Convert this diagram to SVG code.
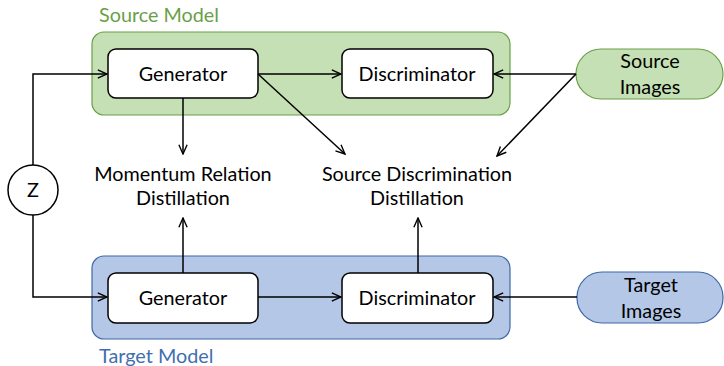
<svg xmlns="http://www.w3.org/2000/svg" width="724" height="366" viewBox="0 0 724 366">
  <style>
    text { font-family: "Lato", "Open Sans", "Liberation Sans", sans-serif; font-size: 19.8px; fill: #000; text-anchor: middle; }
    .box { fill: #fff; stroke: #000; stroke-width: 1.5; }
    .src { fill: #c5e0b4; stroke: #6a9f48; stroke-width: 1.2; }
    .tgt { fill: #b4c7e7; stroke: #3f68a8; stroke-width: 1.2; }
    .edge { fill: none; stroke: #000; stroke-width: 1.5; marker-end: url(#arrow); }
    .title { text-anchor: start; }
  </style>
  <defs>
    <marker id="arrow" viewBox="0 0 12 12" refX="11" refY="6" markerWidth="11" markerHeight="11" markerUnits="userSpaceOnUse" orient="auto">
      <path d="M1,1.5 L11,6 L1,10.5" fill="none" stroke="#000" stroke-width="1.5"/>
    </marker>
  </defs>

  <!-- model containers -->
  <g id="source-model">
    <rect class="src" x="92" y="32" width="418" height="83" rx="12"/>
    <text class="title" x="99" y="22" style="fill:#6a9f48">Source Model</text>
  </g>
  <g id="target-model">
    <rect class="tgt" x="92" y="256" width="418" height="83" rx="12"/>
    <text class="title" x="99" y="363" style="fill:#3f6fb0">Target Model</text>
  </g>

  <!-- nodes -->
  <g id="z">
    <circle cx="33" cy="190" r="25" fill="#fff" stroke="#000" stroke-width="1.5"/>
    <text x="33" y="197">Z</text>
  </g>
  <g id="source-generator">
    <rect class="box" x="108" y="49" width="150" height="49" rx="8"/>
    <text x="183" y="81">Generator</text>
  </g>
  <g id="source-discriminator">
    <rect class="box" x="342" y="49" width="151" height="49" rx="8"/>
    <text x="417" y="81">Discriminator</text>
  </g>
  <g id="source-images">
    <rect class="src" x="576" y="49" width="147" height="50" rx="25"/>
    <text x="650" y="68">Source</text>
    <text x="650" y="94">Images</text>
  </g>
  <g id="target-generator">
    <rect class="box" x="108" y="273" width="150" height="50" rx="8"/>
    <text x="183" y="305">Generator</text>
  </g>
  <g id="target-discriminator">
    <rect class="box" x="342" y="273" width="151" height="50" rx="8"/>
    <text x="417" y="305">Discriminator</text>
  </g>
  <g id="target-images">
    <rect class="tgt" x="577" y="272" width="146" height="51" rx="25"/>
    <text x="651" y="292">Target</text>
    <text x="651" y="318">Images</text>
  </g>
  <g id="momentum-relation-distillation">
    <text x="183" y="181">Momentum Relation</text>
    <text x="183" y="205">Distillation</text>
  </g>
  <g id="source-discrimination-distillation">
    <text x="417" y="181">Source Discrimination</text>
    <text x="417" y="205">Distillation</text>
  </g>

  <!-- connectors -->
  <g id="connectors">
    <path class="edge" d="M33,165 V74 H107"/>
    <path class="edge" d="M33,215 V297 H107"/>
    <path class="edge" d="M258,74 H341"/>
    <path class="edge" d="M576,74 H494"/>
    <path class="edge" d="M258,74 L345,154"/>
    <path class="edge" d="M576,74 L497,156"/>
    <path class="edge" d="M183,98 V154"/>
    <path class="edge" d="M258,297 H341"/>
    <path class="edge" d="M577,297 H494"/>
    <path class="edge" d="M183,273 V218"/>
    <path class="edge" d="M418,273 V218"/>
  </g>
</svg>
